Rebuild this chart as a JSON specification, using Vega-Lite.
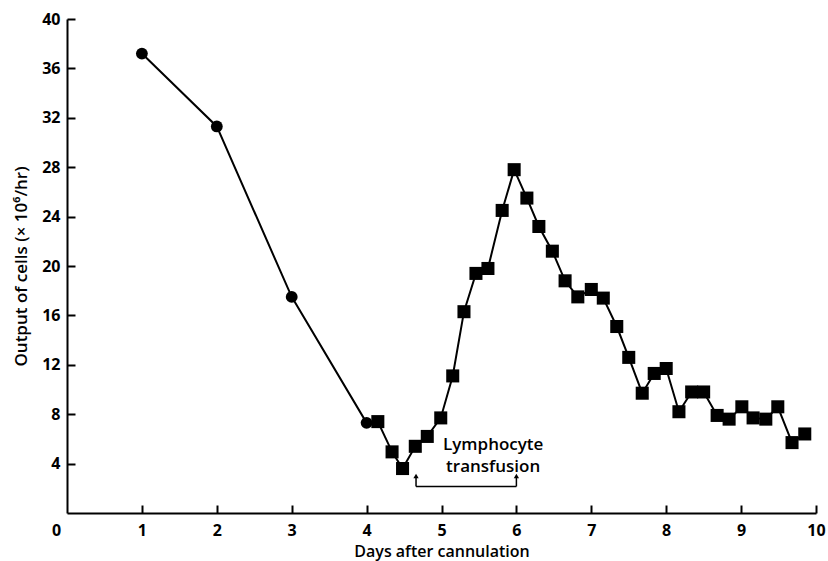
{
  "$schema": "https://vega.github.io/schema/vega-lite/v6.json",
  "width": 749,
  "height": 494,
  "autosize": {"type": "none"},
  "padding": {"left": 67, "top": 19, "right": 12, "bottom": 48},
  "background": "white",
  "config": {
    "view": {"stroke": null},
    "font": "Open Sans",
    "axis": {
      "grid": false,
      "domainColor": "black",
      "domainWidth": 2,
      "tickColor": "black",
      "tickWidth": 2,
      "labelColor": "black",
      "titleColor": "black",
      "labelFont": "Open Sans",
      "labelFontSize": 16,
      "labelFontWeight": "bold",
      "titleFont": "Open Sans",
      "titleFontSize": 16,
      "titleFontWeight": 600
    }
  },
  "datasets": {
    "series": [
      {"day": 1.0, "cells": 37.2, "kind": "circle"},
      {"day": 2.0, "cells": 31.3, "kind": "circle"},
      {"day": 3.0, "cells": 17.5, "kind": "circle"},
      {"day": 4.0, "cells": 7.3, "kind": "circle"},
      {"day": 4.15, "cells": 7.4, "kind": "square"},
      {"day": 4.34, "cells": 4.95, "kind": "square"},
      {"day": 4.48, "cells": 3.6, "kind": "square"},
      {"day": 4.65, "cells": 5.4, "kind": "square"},
      {"day": 4.81, "cells": 6.2, "kind": "square"},
      {"day": 4.99, "cells": 7.7, "kind": "square"},
      {"day": 5.15, "cells": 11.1, "kind": "square"},
      {"day": 5.3, "cells": 16.3, "kind": "square"},
      {"day": 5.46, "cells": 19.4, "kind": "square"},
      {"day": 5.62, "cells": 19.8, "kind": "square"},
      {"day": 5.81, "cells": 24.5, "kind": "square"},
      {"day": 5.97, "cells": 27.8, "kind": "square"},
      {"day": 6.14, "cells": 25.5, "kind": "square"},
      {"day": 6.3, "cells": 23.2, "kind": "square"},
      {"day": 6.48, "cells": 21.2, "kind": "square"},
      {"day": 6.65, "cells": 18.8, "kind": "square"},
      {"day": 6.82, "cells": 17.5, "kind": "square"},
      {"day": 7.0, "cells": 18.1, "kind": "square"},
      {"day": 7.16, "cells": 17.4, "kind": "square"},
      {"day": 7.34, "cells": 15.1, "kind": "square"},
      {"day": 7.5, "cells": 12.6, "kind": "square"},
      {"day": 7.68, "cells": 9.7, "kind": "square"},
      {"day": 7.84, "cells": 11.3, "kind": "square"},
      {"day": 8.0, "cells": 11.7, "kind": "square"},
      {"day": 8.17, "cells": 8.2, "kind": "square"},
      {"day": 8.34, "cells": 9.8, "kind": "square"},
      {"day": 8.5, "cells": 9.8, "kind": "square"},
      {"day": 8.68, "cells": 7.9, "kind": "square"},
      {"day": 8.84, "cells": 7.6, "kind": "square"},
      {"day": 9.01, "cells": 8.6, "kind": "square"},
      {"day": 9.16, "cells": 7.7, "kind": "square"},
      {"day": 9.33, "cells": 7.6, "kind": "square"},
      {"day": 9.49, "cells": 8.6, "kind": "square"},
      {"day": 9.68, "cells": 5.7, "kind": "square"},
      {"day": 9.85, "cells": 6.4, "kind": "square"}
    ],
    "bracket": [
      {"x": 4.66, "x2": 6.0, "y": 2.15, "y2": 2.15},
      {"x": 4.66, "x2": 4.66, "y": 2.15, "y2": 2.9},
      {"x": 6.0, "x2": 6.0, "y": 2.15, "y2": 2.9}
    ],
    "arrows": [
      {"x": 4.66, "y": 3.0},
      {"x": 6.0, "y": 3.0}
    ],
    "note": [
      {"x": 5.69, "y": 5.5, "label": ["Lymphocyte", "transfusion"]}
    ]
  },
  "layer": [
    {
      "data": {"name": "series"},
      "mark": {"type": "line", "color": "black", "strokeWidth": 2},
      "encoding": {
        "x": {
          "field": "day", "type": "quantitative",
          "scale": {"domain": [0, 10], "nice": false, "zero": false},
          "axis": {
            "title": "Days after cannulation",
            "values": [0, 1, 2, 3, 4, 5, 6, 7, 8, 9, 10],
            "format": "d",
            "tickSize": -8,
            "tickOpacity": {"condition": {"test": "datum.value === 0", "value": 0}, "value": 1},
            "labelOffset": {"condition": {"test": "datum.value === 0", "value": -11}, "value": 0},
            "labelPadding": 17,
            "titlePadding": 5,
            "labelFlush": false
          }
        },
        "y": {
          "field": "cells", "type": "quantitative",
          "scale": {"domain": [0, 40], "nice": false},
          "axis": {
            "title": "Output of cells (× 10⁶/hr)",
            "values": [4, 8, 12, 16, 20, 24, 28, 32, 36, 40],
            "format": "d",
            "tickSize": -8,
            "labelPadding": 15,
            "titlePadding": 11,
            "titleFontSize": 17
          }
        },
        "order": {"field": "day"}
      }
    },
    {
      "data": {"name": "series"},
      "mark": {"type": "point", "filled": true, "color": "black", "opacity": 1},
      "encoding": {
        "x": {"field": "day", "type": "quantitative"},
        "y": {"field": "cells", "type": "quantitative"},
        "shape": {"field": "kind", "type": "nominal", "scale": {"domain": ["circle", "square"], "range": ["circle", "square"]}, "legend": null},
        "size": {"field": "kind", "type": "nominal", "scale": {"domain": ["circle", "square"], "range": [140, 170]}, "legend": null}
      }
    },
    {
      "data": {"name": "bracket"},
      "mark": {"type": "rule", "color": "black", "strokeWidth": 1.5},
      "encoding": {
        "x": {"field": "x", "type": "quantitative"},
        "x2": {"field": "x2"},
        "y": {"field": "y", "type": "quantitative"},
        "y2": {"field": "y2"}
      }
    },
    {
      "data": {"name": "arrows"},
      "mark": {"type": "point", "shape": "triangle-up", "filled": true, "color": "black", "size": 28, "opacity": 1},
      "encoding": {
        "x": {"field": "x", "type": "quantitative"},
        "y": {"field": "y", "type": "quantitative"}
      }
    },
    {
      "data": {"name": "note"},
      "mark": {"type": "text", "font": "Open Sans", "fontSize": 17, "fontWeight": 600, "color": "black", "align": "center", "baseline": "middle", "lineHeight": 22},
      "encoding": {
        "x": {"field": "x", "type": "quantitative"},
        "y": {"field": "y", "type": "quantitative"},
        "text": {"field": "label"}
      }
    }
  ]
}
